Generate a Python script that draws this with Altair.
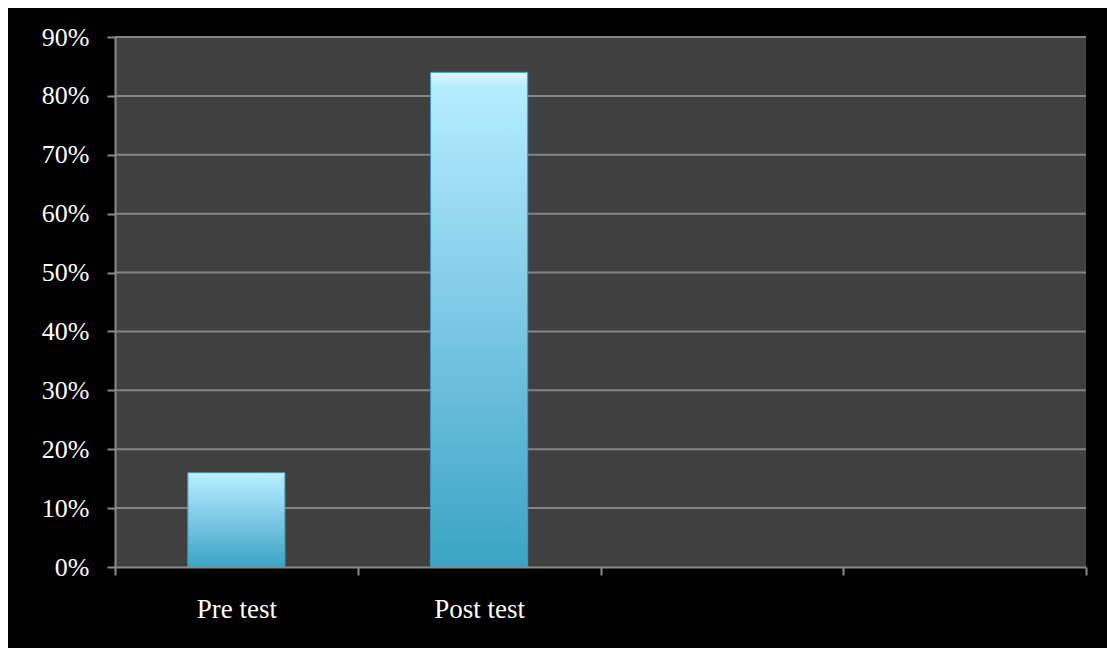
import altair as alt
import pandas as pd

categories = ["Pre test", "Post test", "c3", "c4"]
bar_labels = ["Pre test", "Post test"]
bar_values = [0.16, 0.84]
grid_values = [0.1, 0.2, 0.3, 0.4, 0.5, 0.6, 0.7, 0.8, 0.9]

W, H = 971, 530
FONT = "Liberation Serif"

bars_df = pd.DataFrame({"cat": bar_labels, "value": bar_values})
grid_df = pd.DataFrame({"v": grid_values})
one = pd.DataFrame({"a": [0]})

x_scale = alt.Scale(domain=categories, paddingInner=0, paddingOuter=0)
y_scale = alt.Scale(domain=[0, 0.9])

black_bg = alt.Chart(one).mark_rect(color="black", clip=False).encode(
    x=alt.value(-107), x2=alt.value(W + 80), y=alt.value(-29), y2=alt.value(H + 150)
)
plot_bg = alt.Chart(one).mark_rect(color="#404040").encode(
    x=alt.value(0), x2=alt.value(W), y=alt.value(0), y2=alt.value(H)
)
grid = alt.Chart(grid_df).mark_rule(color="#858585", strokeWidth=2).encode(
    y=alt.Y("v:Q", scale=y_scale),
    x=alt.value(0), x2=alt.value(W),
)

gradient = alt.Gradient(
    gradient="linear",
    stops=[
        alt.GradientStop(color="#dff8ff", offset=0),
        alt.GradientStop(color="#b4ecfd", offset=0.03),
        alt.GradientStop(color="#8fd3ee", offset=0.35),
        alt.GradientStop(color="#3aa3c4", offset=1),
    ],
    x1=0, x2=0, y1=0, y2=1,
)

bars = alt.Chart(bars_df).mark_bar(
    fill=gradient, stroke="#3f9dbd", strokeWidth=1,
    width=alt.RelativeBandSize(0.4),
).encode(
    x=alt.X(
        "cat:N",
        scale=x_scale,
        sort=categories,
        axis=alt.Axis(
            title=None,
            labelAngle=0,
            tickBand="extent",
            labelExpr="(datum.value == 'c3' || datum.value == 'c4') ? '' : datum.value",
            labelFont=FONT,
            labelFontSize=27,
            labelColor="white",
            labelPadding=21,
            tickSize=8,
            tickColor="#8a8a8a",
            tickWidth=2,
            domainColor="#8a8a8a",
            domainWidth=2,
            zindex=2,
        ),
    ),
    y=alt.Y(
        "value:Q",
        scale=y_scale,
        axis=alt.Axis(
            title=None,
            format=".0%",
            values=[0, 0.1, 0.2, 0.3, 0.4, 0.5, 0.6, 0.7, 0.8, 0.9],
            grid=False,
            labelFont=FONT,
            labelFontSize=26,
            labelColor="white",
            labelPadding=18,
            tickSize=8,
            tickColor="#8a8a8a",
            tickWidth=2,
            domainColor="#8a8a8a",
            domainWidth=2,
            zindex=2,
        ),
    ),
)

chart = alt.layer(black_bg, plot_bg, grid, bars).properties(
    width=W,
    height=H,
    background="white",
    padding={"left": 115, "top": 37, "right": 21, "bottom": 81},
    autosize=alt.AutoSizeParams(type="none"),
).configure_view(stroke=None)

chart.save("out.html", embed_options={"renderer": "svg", "actions": False})
